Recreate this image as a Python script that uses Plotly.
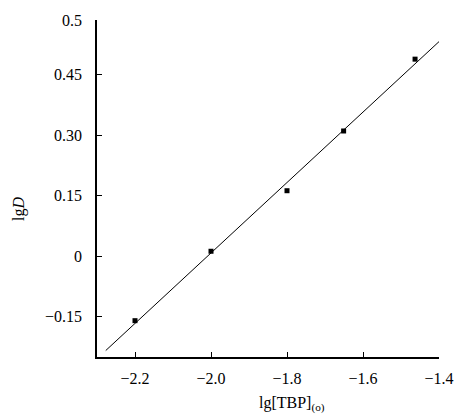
import numpy as np
import plotly.graph_objects as go

# lg[TBP](o) vs lgD measurements
lg_tbp = [-2.20, -2.00, -1.80, -1.651, -1.463]
lg_d = [-0.160, 0.012, 0.162, 0.310, 0.488]

# linear fit drawn across this span of lg[TBP]
fit_span = [-2.277, -1.391]

x_ticks = [-2.2, -2.0, -1.8, -1.6, -1.4]
x_tick_text = ["\u22122.2", "\u22122.0", "\u22121.8", "\u22121.6", "\u22121.4"]
y_ticks = [-0.15, 0.0, 0.15, 0.30, 0.45, 0.585]
y_tick_text = ["\u22120.15", "0", "0.15", "0.30", "0.45", "0.5"]

slope, intercept = np.polyfit(lg_tbp, lg_d, 1)
fit_x = np.array(fit_span)
fit_y = slope * fit_x + intercept

font_family = "Liberation Serif, Times New Roman, serif"

fig = go.Figure()
fig.add_trace(go.Scatter(
    x=fit_x, y=fit_y, mode="lines",
    line=dict(color="black", width=1), showlegend=False,
))
fig.add_trace(go.Scatter(
    x=lg_tbp, y=lg_d, mode="markers",
    marker=dict(symbol="square", size=5, color="black"),
    showlegend=False,
))

fig.update_layout(
    width=466, height=416,
    margin=dict(l=97, r=21, t=15, b=59),
    paper_bgcolor="white", plot_bgcolor="white",
    font=dict(family=font_family, size=16, color="black"),
    xaxis=dict(
        range=[-2.3, -1.4], showgrid=False, zeroline=False,
        showline=True, linecolor="black", linewidth=1.5,
        ticks="inside", ticklen=5, tickcolor="black", tickwidth=1,
        tickvals=x_ticks, ticktext=x_tick_text,
        tickfont=dict(family=font_family, size=16),
        ticklabelstandoff=6,
    ),
    yaxis=dict(
        range=[-0.25, 0.585], showgrid=False, zeroline=False,
        showline=True, linecolor="black", linewidth=1.5,
        ticks="inside", ticklen=5, tickcolor="black", tickwidth=1,
        tickvals=y_ticks, ticktext=y_tick_text,
        tickfont=dict(family=font_family, size=16),
        ticklabelstandoff=10,
    ),
    annotations=[
        dict(
            text="lg[TBP]<sub>(o)</sub>", x=0.57, y=-0.105,
            xref="paper", yref="paper", xanchor="center", yanchor="top",
            showarrow=False, font=dict(family=font_family, size=16),
        ),
        dict(
            text="lg<i>D</i>", x=-0.23, y=0.44, textangle=-90,
            xref="paper", yref="paper", xanchor="center", yanchor="middle",
            showarrow=False, font=dict(family=font_family, size=16),
        ),
    ],
)

fig.write_html("out.html")
